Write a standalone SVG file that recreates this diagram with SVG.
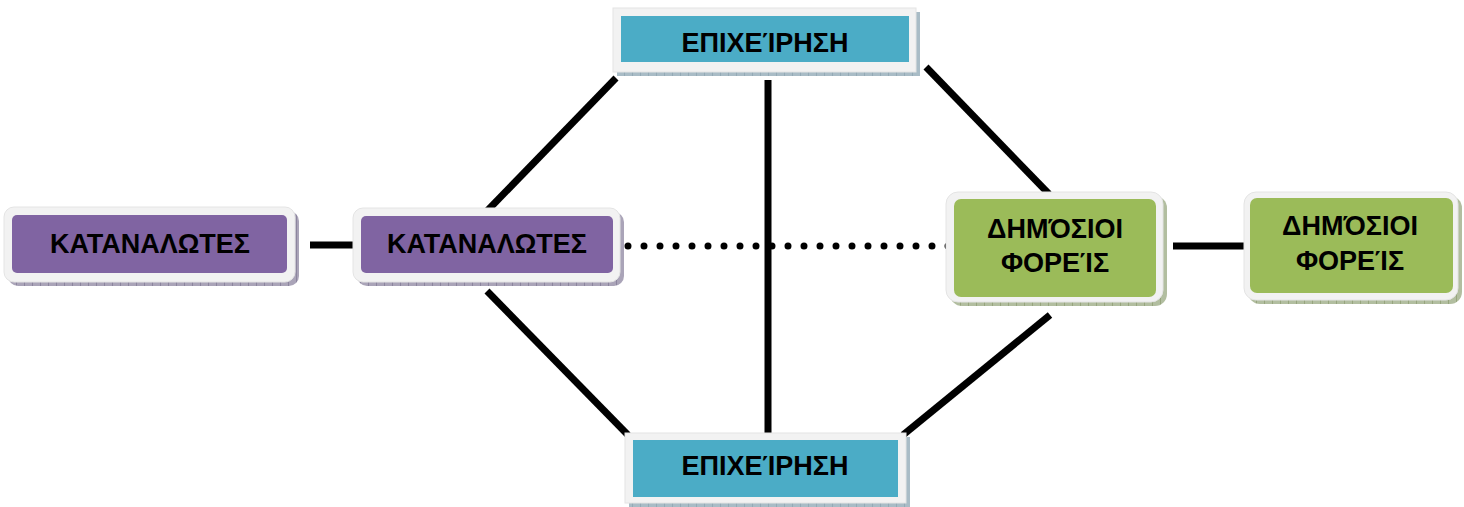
<svg xmlns="http://www.w3.org/2000/svg" width="1464" height="507" viewBox="0 0 1464 507">
<defs>
<pattern id="hb" width="8" height="8" patternUnits="userSpaceOnUse"><rect width="8" height="8" fill="#a9bcc6"/><path d="M0 0V8" stroke="#7f98a6" stroke-width="1"/></pattern>
<pattern id="hp" width="8" height="8" patternUnits="userSpaceOnUse"><rect width="8" height="8" fill="#aaa4b8"/><path d="M0 0V8" stroke="#6f6784" stroke-width="1"/></pattern>
<pattern id="hg" width="8" height="8" patternUnits="userSpaceOnUse"><rect width="8" height="8" fill="#b2bea0"/><path d="M0 0V8" stroke="#7c8d5c" stroke-width="1"/></pattern>
</defs>
<style>
.frame{fill:#f2f2f2;stroke:#e4e4e4;stroke-width:1}
.blue{fill:#4bacc6}
.purple{fill:#8064a2}
.green{fill:#9bbb59}
.t{font-family:"Liberation Sans",Arial,sans-serif;font-weight:bold;font-size:27px;fill:#000;text-anchor:middle}
.ln{stroke:#000;stroke-width:7;fill:none}
.dot{stroke:#000;stroke-width:7;fill:none;stroke-linecap:round;stroke-dasharray:0 16}
</style>
<g id="connectors">
<line class="ln" x1="616" y1="78" x2="487" y2="211"/>
<line class="ln" x1="926" y1="67" x2="1049" y2="194"/>
<line class="ln" x1="487" y1="291" x2="628" y2="435"/>
<line class="ln" x1="1050" y1="315" x2="903" y2="435"/>
<line class="ln" x1="768" y1="80" x2="768" y2="437"/>
<line class="ln" x1="310" y1="245" x2="355" y2="245"/>
<line class="ln" x1="1173" y1="246" x2="1245" y2="246"/>
<line class="dot" x1="628" y1="246" x2="949" y2="246"/>
</g>
<g id="epixeirisi-top">
<rect x="617" y="12" width="303" height="64" fill="url(#hb)"/>
<rect class="frame" x="613" y="8" width="303" height="64"/>
<rect class="blue" x="621" y="16" width="288" height="46"/>
<text class="t" x="765" y="52">ΕΠΙΧΕΊΡΗΣΗ</text>
</g>
<g id="epixeirisi-bottom">
<rect x="629" y="437" width="281" height="70" fill="url(#hb)"/>
<rect class="frame" x="625" y="433" width="281" height="70"/>
<rect class="blue" x="633" y="440" width="265" height="57"/>
<text class="t" x="765" y="475">ΕΠΙΧΕΊΡΗΣΗ</text>
</g>
<g id="katanalotes-left">
<rect x="8" y="211" width="291" height="75" rx="10" fill="url(#hp)"/>
<rect class="frame" x="4" y="207" width="291" height="75" rx="10"/>
<rect class="purple" x="12" y="215" width="275" height="58" rx="5"/>
<text class="t" x="150" y="253">ΚΑΤΑΝΑΛΩΤΕΣ</text>
</g>
<g id="katanalotes-mid">
<rect x="357" y="212" width="267" height="74" rx="10" fill="url(#hp)"/>
<rect class="frame" x="353" y="208" width="267" height="74" rx="10"/>
<rect class="purple" x="361" y="216" width="252" height="57" rx="5"/>
<text class="t" x="487" y="253">ΚΑΤΑΝΑΛΩΤΕΣ</text>
</g>
<g id="dimosioi-mid">
<rect x="950" y="196" width="217" height="110" rx="12" fill="url(#hg)"/>
<rect class="frame" x="946" y="192" width="217" height="110" rx="12"/>
<rect class="green" x="954" y="199" width="202" height="98" rx="7"/>
<text class="t" x="1055" y="238">ΔΗΜΌΣΙΟΙ</text>
<text class="t" x="1055" y="272">ΦΟΡΕΊΣ</text>
</g>
<g id="dimosioi-right">
<rect x="1248" y="196" width="214" height="108" rx="12" fill="url(#hg)"/>
<rect class="frame" x="1244" y="192" width="214" height="108" rx="12"/>
<rect class="green" x="1250" y="198" width="203" height="95" rx="7"/>
<text class="t" x="1350" y="235">ΔΗΜΌΣΙΟΙ</text>
<text class="t" x="1350" y="270">ΦΟΡΕΊΣ</text>
</g>
</svg>
